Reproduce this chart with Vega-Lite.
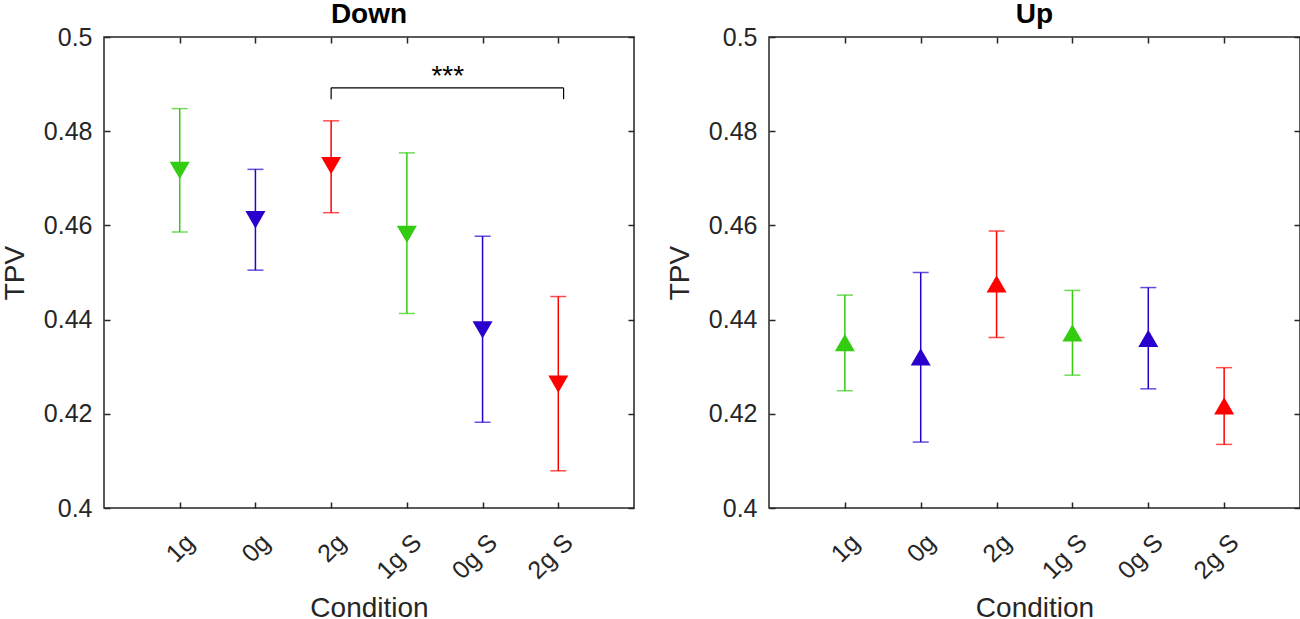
{
  "$schema": "https://vega.github.io/schema/vega-lite/v6.json",
  "description": "TPV by condition, Down and Up panels, mean with error bars",
  "padding": 0,
  "datasets": {
    "down": [
      {"pos": 1, "cond": "1g", "mean": 0.4717, "lo": 0.4586, "hi": 0.4848},
      {"pos": 2, "cond": "0g", "mean": 0.4612, "lo": 0.4505, "hi": 0.4719},
      {"pos": 3, "cond": "2g", "mean": 0.4727, "lo": 0.4627, "hi": 0.4822},
      {"pos": 4, "cond": "1g S", "mean": 0.4581, "lo": 0.4413, "hi": 0.4754},
      {"pos": 5, "cond": "0g S", "mean": 0.4378, "lo": 0.4182, "hi": 0.4577},
      {"pos": 6, "cond": "2g S", "mean": 0.4263, "lo": 0.4079, "hi": 0.4449}
    ],
    "up": [
      {"pos": 1, "cond": "1g", "mean": 0.4351, "lo": 0.4249, "hi": 0.4452},
      {"pos": 2, "cond": "0g", "mean": 0.4321, "lo": 0.4140, "hi": 0.4500},
      {"pos": 3, "cond": "2g", "mean": 0.4476, "lo": 0.4362, "hi": 0.4588},
      {"pos": 4, "cond": "1g S", "mean": 0.4372, "lo": 0.4282, "hi": 0.4462},
      {"pos": 5, "cond": "0g S", "mean": 0.4360, "lo": 0.4253, "hi": 0.4468},
      {"pos": 6, "cond": "2g S", "mean": 0.4217, "lo": 0.4135, "hi": 0.4298}
    ],
    "bracket": [
      {"x": 3, "x2": 6.07, "y": 0.4892, "y2": 0.4892},
      {"x": 3, "x2": 3, "y": 0.4892, "y2": 0.4868},
      {"x": 6.07, "x2": 6.07, "y": 0.4892, "y2": 0.4868}
    ],
    "stars": [
      {"x": 4.54, "y": 0.4915, "label": "***"}
    ]
  },
  "hconcat": [
    {
      "title": "Down",
      "width": 530,
      "height": 471,
      "data": {"name": "down"},
      "encoding": {
        "x": {"field": "pos", "type": "quantitative", "scale": {"domain": [0, 7]}, "axis": null},
        "color": {
          "field": "cond",
          "type": "nominal",
          "scale": {
            "domain": ["1g", "0g", "2g", "1g S", "0g S", "2g S"],
            "range": ["#33cc11", "#2a00cc", "#ff0000", "#33cc11", "#2a00cc", "#ff0000"]
          },
          "legend": null
        }
      },
      "layer": [
        {
          "mark": {"type": "rule", "strokeWidth": 1.5},
          "encoding": {
            "x": {
              "field": "pos", "type": "quantitative", "scale": {"domain": [0, 7]},
              "axis": {
                "orient": "bottom", "title": "Condition", "values": [1, 2, 3, 4, 5, 6],
                "labelExpr": "['', '1g', '0g', '2g', '1g S', '0g S', '2g S'][datum.value]",
                "labelAngle": -45, "labelAlign": "right", "labelBaseline": "middle",
                "labelPadding": 36, "labelOffset": 10, "titlePadding": 11
              }
            },
            "y": {
              "field": "lo", "type": "quantitative", "scale": {"domain": [0.4, 0.5], "nice": false, "zero": false},
              "axis": {"orient": "left", "title": "TPV", "values": [0.4, 0.42, 0.44, 0.46, 0.48, 0.5], "format": "~g", "labelPadding": 18, "titlePadding": 14}
            },
            "y2": {"field": "hi"}
          }
        },
        {
          "mark": {"type": "tick", "orient": "horizontal", "thickness": 1.5, "size": 16},
          "encoding": {
            "x": {
              "field": "pos", "type": "quantitative", "scale": {"domain": [0, 7]},
              "axis": {"orient": "top", "title": null, "labels": false, "values": [1, 2, 3, 4, 5, 6]}
            },
            "y": {
              "field": "lo", "type": "quantitative", "scale": {"domain": [0.4, 0.5], "nice": false, "zero": false},
              "axis": {"orient": "right", "title": null, "labels": false, "values": [0.4, 0.42, 0.44, 0.46, 0.48, 0.5]}
            }
          }
        },
        {
          "mark": {"type": "tick", "orient": "horizontal", "thickness": 1.5, "size": 16},
          "encoding": {
            "y": {"field": "hi", "type": "quantitative", "axis": null}
          }
        },
        {
          "mark": {"type": "point", "shape": "triangle-down", "filled": true, "size": 400, "opacity": 1},
          "encoding": {
            "y": {"field": "mean", "type": "quantitative", "axis": null}
          }
        },
        {
          "data": {"name": "bracket"},
          "mark": {"type": "rule", "strokeWidth": 1.2},
          "encoding": {
            "x": {"field": "x", "type": "quantitative", "axis": null},
            "x2": {"field": "x2"},
            "y": {"field": "y", "type": "quantitative", "axis": null},
            "y2": {"field": "y2"},
            "color": {"value": "black"}
          }
        },
        {
          "data": {"name": "stars"},
          "mark": {"type": "text", "fontSize": 28, "baseline": "middle", "align": "center"},
          "encoding": {
            "x": {"field": "x", "type": "quantitative", "axis": null},
            "y": {"field": "y", "type": "quantitative", "axis": null},
            "text": {"field": "label"},
            "color": {"value": "black"}
          }
        }
      ],
      "resolve": {"axis": {"x": "independent", "y": "independent"}}
    },
    {
      "title": "Up",
      "width": 531,
      "height": 471,
      "data": {"name": "up"},
      "encoding": {
        "x": {"field": "pos", "type": "quantitative", "scale": {"domain": [0, 7]}, "axis": null},
        "color": {
          "field": "cond",
          "type": "nominal",
          "scale": {
            "domain": ["1g", "0g", "2g", "1g S", "0g S", "2g S"],
            "range": ["#33cc11", "#2a00cc", "#ff0000", "#33cc11", "#2a00cc", "#ff0000"]
          },
          "legend": null
        }
      },
      "layer": [
        {
          "mark": {"type": "rule", "strokeWidth": 1.5},
          "encoding": {
            "x": {
              "field": "pos", "type": "quantitative", "scale": {"domain": [0, 7]},
              "axis": {
                "orient": "bottom", "title": "Condition", "values": [1, 2, 3, 4, 5, 6],
                "labelExpr": "['', '1g', '0g', '2g', '1g S', '0g S', '2g S'][datum.value]",
                "labelAngle": -45, "labelAlign": "right", "labelBaseline": "middle",
                "labelPadding": 36, "labelOffset": 10, "titlePadding": 11
              }
            },
            "y": {
              "field": "lo", "type": "quantitative", "scale": {"domain": [0.4, 0.5], "nice": false, "zero": false},
              "axis": {"orient": "left", "title": "TPV", "values": [0.4, 0.42, 0.44, 0.46, 0.48, 0.5], "format": "~g", "labelPadding": 18, "titlePadding": 14}
            },
            "y2": {"field": "hi"}
          }
        },
        {
          "mark": {"type": "tick", "orient": "horizontal", "thickness": 1.5, "size": 16},
          "encoding": {
            "x": {
              "field": "pos", "type": "quantitative", "scale": {"domain": [0, 7]},
              "axis": {"orient": "top", "title": null, "labels": false, "values": [1, 2, 3, 4, 5, 6]}
            },
            "y": {
              "field": "lo", "type": "quantitative", "scale": {"domain": [0.4, 0.5], "nice": false, "zero": false},
              "axis": {"orient": "right", "title": null, "labels": false, "values": [0.4, 0.42, 0.44, 0.46, 0.48, 0.5]}
            }
          }
        },
        {
          "mark": {"type": "tick", "orient": "horizontal", "thickness": 1.5, "size": 16},
          "encoding": {
            "y": {"field": "hi", "type": "quantitative", "axis": null}
          }
        },
        {
          "mark": {"type": "point", "shape": "triangle-up", "filled": true, "size": 400, "opacity": 1},
          "encoding": {
            "y": {"field": "mean", "type": "quantitative", "axis": null}
          }
        }
      ],
      "resolve": {"axis": {"x": "independent", "y": "independent"}}
    }
  ],
  "spacing": 135,
  "bounds": "flush",
  "config": {
    "font": "Liberation Sans",
    "view": {"stroke": "#262626", "strokeWidth": 1.5},
    "axis": {
      "grid": false,
      "domain": false,
      "labelFont": "Liberation Sans",
      "labelFontSize": 25,
      "labelColor": "#262626",
      "labelOverlap": false,
      "labelFlush": false,
      "titleFont": "Liberation Sans",
      "titleFontSize": 28,
      "titleFontWeight": "normal",
      "titleColor": "#262626",
      "tickColor": "#262626",
      "tickSize": -6,
      "tickWidth": 1.5
    },
    "title": {"font": "Liberation Sans", "fontSize": 28, "fontWeight": "bold", "color": "black", "offset": -4, "frame": "group"}
  }
}
